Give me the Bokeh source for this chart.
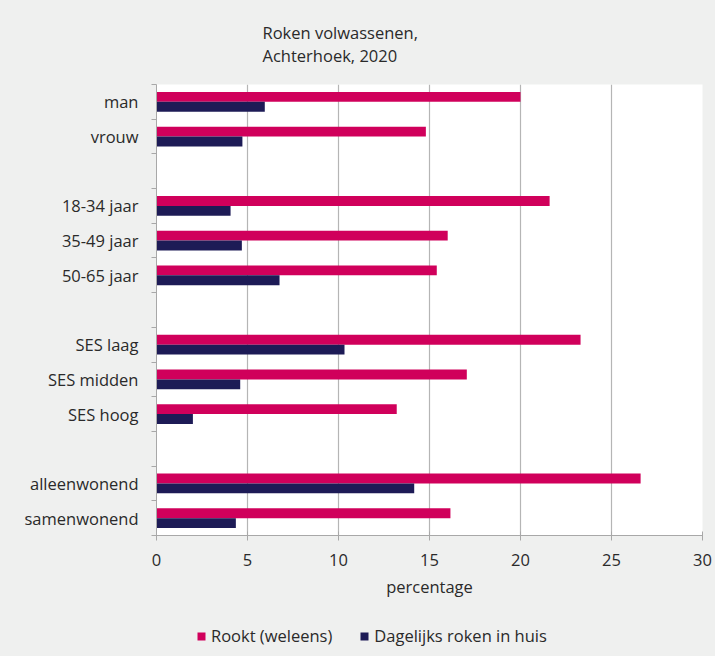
from bokeh.plotting import figure
from bokeh.layouts import column
from bokeh.models import (Range1d, FixedTicker, Legend, LegendItem, Title,
                          ColumnDataSource)
from bokeh.embed import file_html
from bokeh.resources import INLINE

# ---- data ----
title_lines = ["Roken volwassenen,", "Achterhoek, 2020"]
categories = ["man", "vrouw",
              "18-34 jaar", "35-49 jaar", "50-65 jaar",
              "SES laag", "SES midden", "SES hoog",
              "alleenwonend", "samenwonend"]
group_sizes = [2, 3, 3, 2]
rookt = [20.0, 14.8, 21.6, 16.0, 15.4, 23.3, 17.05, 13.2, 26.6, 16.15]
dagelijks = [5.95, 4.72, 4.07, 4.69, 6.76, 10.33, 4.6, 2.0, 14.16, 4.36]
series_names = ["Rookt (weleens)", "Dagelijks roken in huis"]
x_ticks = [0, 5, 10, 15, 20, 25, 30]

# ---- styling ----
PINK = "#d0005b"
NAVY = "#1d1b56"
BG = "#eff0ef"
GRID = "#b5b5b5"
AXIS = "#a8a8a8"
TXT = "#2a2a2a"
FONT = "Open Sans"
FS = "16.5px"

# slot positions (blank slot between groups)
slots = []
s = 0
for gi, g in enumerate(group_sizes):
    for _ in range(g):
        slots.append(s)
        s += 1
    if gi < len(group_sizes) - 1:
        s += 1
n_slots = s

bar_h = 0.285
src = ColumnDataSource(dict(
    y1=[v - bar_h / 2 for v in slots],
    y2=[v + bar_h / 2 for v in slots],
    rookt=rookt,
    dag=dagelijks,
))

p = figure(width=715, height=616, output_backend="svg", toolbar_location=None,
           x_range=Range1d(0, 30), y_range=Range1d(n_slots - 0.5, -0.5),
           min_border_left=156, min_border_right=13,
           min_border_top=84, min_border_bottom=81)
p.border_fill_color = BG
p.background_fill_color = "white"
p.outline_line_color = None

p.hbar(y="y1", left=0, right="rookt", height=bar_h, source=src,
       fill_color=PINK, line_color=None)
p.hbar(y="y2", left=0, right="dag", height=bar_h, source=src,
       fill_color=NAVY, line_color=None)

# x axis
p.xaxis.ticker = FixedTicker(ticks=x_ticks)
p.xaxis.axis_label = "percentage"
p.xaxis.axis_label_text_font = FONT
p.xaxis.axis_label_text_font_size = FS
p.xaxis.axis_label_text_font_style = "normal"
p.xaxis.axis_label_text_color = TXT
p.xaxis.axis_label_standoff = 6
p.xaxis.major_label_text_font = FONT
p.xaxis.major_label_text_font_size = FS
p.xaxis.major_label_text_color = TXT
p.xaxis.major_label_standoff = 13
p.xaxis.axis_line_color = AXIS
p.xaxis.major_tick_line_color = AXIS
p.xaxis.major_tick_in = 4
p.xaxis.major_tick_out = 5
p.xaxis.minor_tick_line_color = None

p.xgrid.ticker = FixedTicker(ticks=x_ticks)
p.xgrid.grid_line_color = GRID
p.xgrid.grid_line_width = 1.2
p.ygrid.grid_line_color = None

# y axis: labels at slot centres, ticks at slot boundaries
p.yaxis.ticker = FixedTicker(ticks=slots,
                             minor_ticks=[i - 0.5 for i in range(n_slots + 1)])
p.yaxis.major_label_overrides = {v: c for v, c in zip(slots, categories)}
p.yaxis.major_label_text_font = FONT
p.yaxis.major_label_text_font_size = FS
p.yaxis.major_label_text_color = TXT
p.yaxis.major_label_standoff = 13
p.yaxis.major_tick_line_color = None
p.yaxis.major_tick_in = 0
p.yaxis.major_tick_out = 0
p.yaxis.minor_tick_line_color = AXIS
p.yaxis.minor_tick_in = 0
p.yaxis.minor_tick_out = 5
p.yaxis.axis_line_color = AXIS

# title
p.add_layout(Title(text="\n".join(title_lines), align="left", offset=106,
                   standoff=36, text_font=FONT, text_font_size=FS,
                   text_font_style="normal", text_color=TXT), "above")

# legend strip (separate figure below the chart; its bars lie outside its range)
lg = figure(width=715, height=40, output_backend="svg", toolbar_location=None,
            x_range=Range1d(100, 101), y_range=Range1d(100, 101),
            x_axis_type=None, y_axis_type=None,
            min_border_left=0, min_border_right=0,
            min_border_top=0, min_border_bottom=0)
lg.border_fill_color = BG
lg.background_fill_color = BG
lg.outline_line_color = None
lg.grid.grid_line_color = None
l1 = lg.hbar(y="y1", left=0, right="rookt", height=bar_h, source=src,
             fill_color=PINK, line_color=None)
l2 = lg.hbar(y="y2", left=0, right="dag", height=bar_h, source=src,
             fill_color=NAVY, line_color=None)
legend = Legend(items=[LegendItem(label=series_names[0], renderers=[l1]),
                       LegendItem(label=series_names[1], renderers=[l2])],
                orientation="horizontal", location=(40, 9),
                glyph_width=10, glyph_height=10, label_height=16,
                label_standoff=5, spacing=27, padding=0, margin=0,
                border_line_color=None, background_fill_alpha=0,
                label_text_font=FONT, label_text_font_size=FS,
                label_text_color=TXT)
lg.add_layout(legend)

layout = column(p, lg, spacing=0, styles={"background-color": BG})
open("out.html", "w").write(file_html(layout, INLINE))
